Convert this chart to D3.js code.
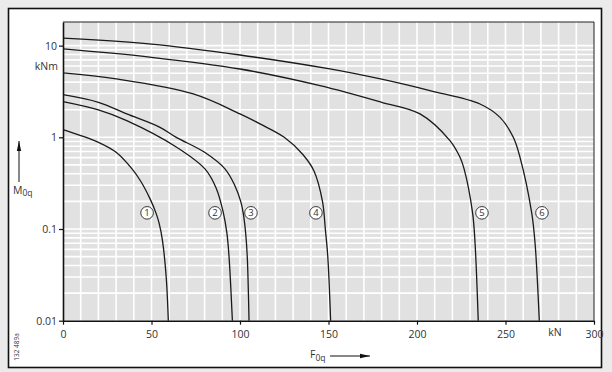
<!DOCTYPE html>
<html>
<head>
<meta charset="utf-8">
<script src="https://cdn.jsdelivr.net/npm/d3@7"></script>
<style>
body { margin: 0; background: #ebebeb; }
svg { display: block; }
text { font-family: "Open Sans", "DejaVu Sans", sans-serif; fill: #333; }
</style>
</head>
<body>
<script>
const width = 612;
const height = 372;

//-----------------------------DATA------------------------------//
// F0q in kN, M0q in kNm
const curve1 = [[0, 1.21], [20, 0.88], [30, 0.686], [39, 0.452], [44, 0.33], [49.2, 0.213], [52.5, 0.15], [54.4, 0.114], [56.2, 0.0747], [58.3, 0.03], [59.5, 0.01]];
const curve2 = [[0, 2.45], [20, 1.99], [36, 1.52], [64.2, 0.78], [80.2, 0.452], [86.5, 0.28], [90.6, 0.15], [92.6, 0.09], [93.8, 0.05], [95.7, 0.01]];
const curve3 = [[0, 2.92], [20, 2.41], [36, 1.8], [54.8, 1.285], [64, 1.0], [80, 0.686], [91.5, 0.452], [97, 0.3], [100.4, 0.2], [101.8, 0.15], [103.2, 0.09], [104.1, 0.05], [105.1, 0.01]];
const curve4 = [[0, 5.04], [30, 4.33], [73.6, 2.97], [100, 1.8], [111.3, 1.4], [125, 1.0], [135.5, 0.65], [141.8, 0.43], [146.6, 0.2], [148.2, 0.1], [149.6, 0.05], [151.2, 0.01]];
const curve5 = [[0, 9.2], [50, 7.46], [100, 5.56], [145.2, 3.66], [180, 2.41], [201.7, 1.8], [218.6, 0.92], [224.3, 0.605], [226.6, 0.452], [231.4, 0.15], [232.8, 0.07], [234.6, 0.01]];
const curve6 = [[0, 12.1], [50, 10.4], [100, 7.9], [150.8, 5.57], [180, 4.3], [207.3, 3.23], [235.6, 2.31], [246.9, 1.65], [254.4, 1.0], [258.2, 0.605], [264.8, 0.15], [266.7, 0.07], [269.1, 0.01]];
const curves = [curve1, curve2, curve3, curve4, curve5, curve6];

const labelNames = ["1", "2", "3", "4", "5", "6"];
const labelX = [47.5, 85.9, 106.2, 142.9, 236.7, 270.6];
const labelY = [0.15, 0.15, 0.15, 0.15, 0.15, 0.15];

const xTicks = [0, 50, 100, 150, 200, 250, 300];
const yTicks = [10, 1, 0.1, 0.01];
const yTickLabels = ["10", "1", "0.1", "0.01"];

//----------------------------SCALES-----------------------------//
const xScale = d3.scaleLinear().domain([0, 300]).range([63, 594]);
const yScale = d3.scaleLog().domain([0.01, 18.1]).range([320.7, 22]);

const svg = d3.select("body").append("svg")
  .attr("width", width).attr("height", height);

// outer frame
svg.append("rect").attr("x", 8.5).attr("y", 8.5)
  .attr("width", 593).attr("height", 359)
  .attr("fill", "#fff").attr("stroke", "#111").attr("stroke-width", 1.6);

// plot background
const x0 = xScale(0), x1 = xScale(300), y0 = yScale(0.01), y1 = yScale(18.1);
svg.append("rect").attr("x", x0).attr("y", y1)
  .attr("width", x1 - x0).attr("height", y0 - y1)
  .attr("fill", "#e1e1e1");

//-----------------------------GRID------------------------------//
const vGrid = d3.range(10, 300, 10);
svg.append("g").selectAll("line").data(vGrid).enter().append("line")
  .attr("x1", d => xScale(d)).attr("x2", d => xScale(d))
  .attr("y1", y1).attr("y2", y0)
  .attr("stroke", "#fff").attr("stroke-width", 1.6);

const hGrid = [];
[0.01, 0.1, 1, 10].forEach(dec => {
  for (let k = 1; k <= 9; k++) {
    const v = dec * k;
    if (v > 0.01 && v < 18) hGrid.push(v);
  }
});
svg.append("g").selectAll("line").data(hGrid).enter().append("line")
  .attr("x1", x0).attr("x2", x1)
  .attr("y1", d => yScale(d)).attr("y2", d => yScale(d))
  .attr("stroke", "#fff").attr("stroke-width", 1.6);

// top and right border
svg.append("path")
  .attr("d", "M" + x0 + "," + y1 + "H" + x1 + "V" + y0)
  .attr("fill", "none").attr("stroke", "#222").attr("stroke-width", 1);

//-----------------------------AXES------------------------------//
const xaxis = d3.axisBottom(xScale).tickValues(xTicks).tickSize(4).tickSizeOuter(0);
const gx = svg.append("g").attr("transform", "translate(0," + y0 + ")").call(xaxis);
gx.select(".domain").attr("stroke", "#111").attr("stroke-width", 1.6);
gx.selectAll(".tick line").attr("stroke", "#111").attr("stroke-width", 1.2);
gx.selectAll(".tick text").attr("dy", "0.95em").style("font-size", "10.5px")
  .style("font-family", "'Open Sans', 'DejaVu Sans', sans-serif").attr("fill", "#333");

const yaxis = d3.axisLeft(yScale).tickValues(yTicks)
  .tickFormat((d, i) => yTickLabels[i]).tickSize(4).tickSizeOuter(0);
const gy = svg.append("g").attr("transform", "translate(" + x0 + ",0)").call(yaxis);
gy.select(".domain").attr("stroke", "#111").attr("stroke-width", 1.6);
gy.selectAll(".tick line").attr("stroke", "#111").attr("stroke-width", 1.2);
gy.selectAll(".tick text").attr("x", -6).style("font-size", "10.5px")
  .style("font-family", "'Open Sans', 'DejaVu Sans', sans-serif").attr("fill", "#333");

svg.append("text").attr("x", 58).attr("y", 70).attr("text-anchor", "end")
  .style("font-size", "10.5px").text("kNm");
svg.append("text").attr("x", 555).attr("y", 336).attr("text-anchor", "middle")
  .style("font-size", "10.5px").text("kN");

//----------------------------LINES------------------------------//
const line = d3.line().curve(d3.curveCatmullRom.alpha(0.5))
  .x(d => xScale(d[0])).y(d => yScale(d[1]));

svg.append("g").selectAll("path").data(curves).enter().append("path")
  .attr("d", d => line(d))
  .attr("fill", "none").attr("stroke", "#1a1a1a").attr("stroke-width", 1.3);

// curve numbers
const labels = svg.append("g").selectAll("g").data(labelNames).enter().append("g")
  .attr("transform", (d, i) => "translate(" + xScale(labelX[i]) + "," + yScale(labelY[i]) + ")");
labels.append("circle").attr("r", 6.3)
  .attr("fill", "#fff").attr("stroke", "#222").attr("stroke-width", 0.9);
labels.append("text").attr("text-anchor", "middle").attr("dy", "0.35em")
  .style("font-size", "9.5px").text(d => d);

//-----------------------------AXIS TITLES------------------------------//
svg.append("defs").append("marker").attr("id", "arr")
  .attr("viewBox", "0 0 10 6").attr("refX", 10).attr("refY", 3)
  .attr("markerWidth", 10).attr("markerHeight", 6)
  .attr("markerUnits", "userSpaceOnUse").attr("orient", "auto")
  .append("path").attr("d", "M0,0.8 L10,3 L0,5.2 Z").attr("fill", "#111");

const fx = svg.append("text").attr("x", 310).attr("y", 358).style("font-size", "10.5px");
fx.append("tspan").text("F");
fx.append("tspan").attr("dy", 3).style("font-size", "8.5px").text("0q");
svg.append("line").attr("x1", 330).attr("x2", 370).attr("y1", 356).attr("y2", 356)
  .attr("stroke", "#111").attr("stroke-width", 1).attr("marker-end", "url(#arr)");

const my = svg.append("text").attr("x", 13).attr("y", 194).style("font-size", "10.5px");
my.append("tspan").text("M");
my.append("tspan").attr("dy", 2).style("font-size", "8.5px").text("0q");
svg.append("line").attr("x1", 19).attr("x2", 19).attr("y1", 182).attr("y2", 141)
  .attr("stroke", "#111").attr("stroke-width", 1).attr("marker-end", "url(#arr)");

svg.append("text").attr("transform", "translate(19,347) rotate(-90)")
  .attr("text-anchor", "middle").style("font-size", "6.5px").text("132 489a");
</script>
</body>
</html>
